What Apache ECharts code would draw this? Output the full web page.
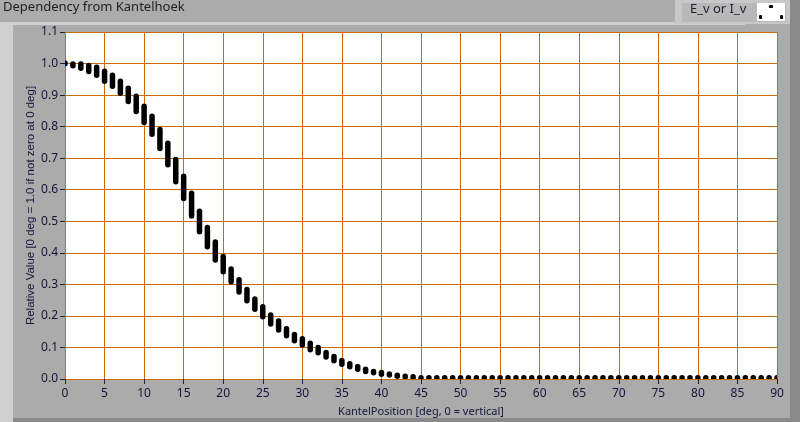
<!DOCTYPE html>
<html>
<head>
<meta charset="utf-8">
<script src="https://cdn.jsdelivr.net/npm/echarts@6/dist/echarts.min.js"></script>
<style>
html,body{margin:0;padding:0;background:#ababab;}
#chart{width:800px;height:422px;}
</style>
</head>
<body>
<div id="chart"></div>
<script>
var title = "Dependency from Kantelhoek";
var legendLabel = "E_v or I_v";
var xName = "KantelPosition [deg, 0 = vertical]";
var yName = "Relative Value [0 deg = 1.0 if not zero at 0 deg]";

var degrees = [];
for (var d = 0; d <= 90; d++) degrees.push(d);

var lowVals = [0.999,0.993,0.985,0.975,0.963,0.944,0.928,0.906,0.880,0.848,
  0.813,0.776,0.731,0.679,0.625,0.572,0.517,0.467,0.419,0.377,
  0.340,0.308,0.276,0.248,0.221,0.197,0.174,0.155,0.137,0.121,
  0.108,0.093,0.083,0.070,0.058,0.047,0.039,0.031,0.024,0.020,
  0.015,0.013,0.009,0.006,0.004,0.002,0.002,0.002,0.002,0.002,
  0.002,0.002,0.002,0.002,0.002,0.002,0.002,0.002,0.002,0.002,
  0.002,0.002,0.002,0.002,0.002,0.002,0.002,0.002,0.002,0.002,
  0.002,0.002,0.002,0.002,0.002,0.002,0.002,0.002,0.002,0.002,
  0.002,0.002,0.002,0.002,0.002,0.002,0.002,0.002,0.002,0.002,0.002];
var highVals = [1.001,0.998,0.998,0.993,0.987,0.975,0.962,0.943,0.921,0.895,
  0.864,0.832,0.790,0.746,0.695,0.642,0.588,0.531,0.479,0.433,
  0.387,0.348,0.314,0.283,0.253,0.228,0.202,0.183,0.158,0.140,
  0.127,0.112,0.099,0.083,0.070,0.058,0.047,0.039,0.030,0.023,
  0.020,0.015,0.011,0.008,0.006,0.003,0.003,0.003,0.003,0.003,
  0.003,0.003,0.003,0.003,0.003,0.003,0.003,0.003,0.003,0.003,
  0.003,0.003,0.003,0.003,0.003,0.003,0.003,0.003,0.003,0.003,
  0.003,0.003,0.003,0.003,0.003,0.003,0.003,0.003,0.003,0.003,
  0.003,0.003,0.003,0.003,0.003,0.003,0.003,0.003,0.003,0.003,0.003];

var data = degrees.map(function (x, i) { return [x, lowVals[i], highVals[i]]; });

var chart = echarts.init(document.getElementById('chart'), null, {renderer: 'canvas'});
var FONT = 'Noto Sans';
var TXT = '#14143c';
var GRIDC = '#cc6a00';

chart.setOption({
  animation: false,
  backgroundColor: '#ababab',
  graphic: [
    {type: 'rect', z: -10, shape: {x: 0, y: 22, width: 13, height: 400}, style: {fill: '#cfcfcf'}},
    {type: 'rect', z: -10, shape: {x: 0, y: 22, width: 745, height: 3}, style: {fill: '#cfcfcf'}},
    {type: 'rect', z: -10, shape: {x: 13, y: 25, width: 777, height: 393}, style: {fill: '#ababab'}},
    {type: 'rect', z: -10, shape: {x: 790, y: 0, width: 10, height: 422}, style: {fill: '#8a8a8a'}},
    {type: 'rect', z: -10, shape: {x: 13, y: 418, width: 777, height: 4}, style: {fill: '#8a8a8a'}},
    {type: 'rect', z: -9, shape: {x: 675, y: 0, width: 115, height: 24}, style: {fill: '#c8c8c8'}},
    {type: 'rect', z: -8, shape: {x: 682, y: 3, width: 104, height: 19}, style: {fill: '#b8b8b8'}},
    {type: 'text', left: 3, top: 1, style: {text: title, font: '13px "Noto Sans"', fill: '#202020'}},
    {type: 'text', left: 690, top: 3, style: {text: legendLabel, font: '13px "Noto Sans"', fill: '#202030'}},
    {type: 'rect', shape: {x: 757, y: 3, width: 28, height: 18}, style: {fill: '#ffffff'}},
    {type: 'rect', shape: {x: 769, y: 5, width: 4, height: 3, r: 1}, style: {fill: '#000'}},
    {type: 'rect', shape: {x: 759, y: 15, width: 3, height: 4, r: 1}, style: {fill: '#000'}},
    {type: 'rect', shape: {x: 780, y: 15, width: 3, height: 4, r: 1}, style: {fill: '#000'}}
  ],
  grid: {left: 65, right: 23, top: 32, bottom: 43, show: true, backgroundColor: '#ffffff', borderWidth: 0},
  xAxis: {
    type: 'value', min: 0, max: 90, interval: 5,
    name: xName, nameLocation: 'middle', nameGap: 27,
    nameTextStyle: {fontFamily: FONT, fontSize: 11, color: TXT},
    axisLine: {show: false},
    axisTick: {show: true, length: 5, lineStyle: {color: '#222'}},
    axisLabel: {fontFamily: FONT, fontSize: 12, color: TXT, margin: 9},
    splitLine: {show: true, lineStyle: {color: GRIDC, width: 1}}
  },
  yAxis: {
    type: 'value', min: 0, max: 1.1, interval: 0.1,
    name: yName, nameLocation: 'middle', nameGap: 28, nameMoveOverlap: false,
    nameTextStyle: {fontFamily: 'Liberation Sans', fontSize: 11.5, color: TXT},
    axisLine: {show: false},
    axisTick: {show: true, length: 5, lineStyle: {color: '#222'}},
    axisLabel: {fontFamily: FONT, fontSize: 12, color: TXT, margin: 7,
      formatter: function (v) { return v.toFixed(1); }},
    splitLine: {show: true, lineStyle: {color: GRIDC, width: 1}}
  },
  series: [{
    type: 'custom',
    clip: true,
    data: data,
    encode: {x: 0, y: [1, 2]},
    renderItem: function (params, api) {
      var p1 = api.coord([api.value(0), api.value(1)]);
      var p2 = api.coord([api.value(0), api.value(2)]);
      return {
        type: 'line',
        shape: {x1: p1[0], y1: p1[1], x2: p2[0], y2: p2[1] - 0.3},
        style: {stroke: '#000', lineWidth: 5.5, lineCap: 'round'}
      };
    }
  }]
});
</script>
</body>
</html>
